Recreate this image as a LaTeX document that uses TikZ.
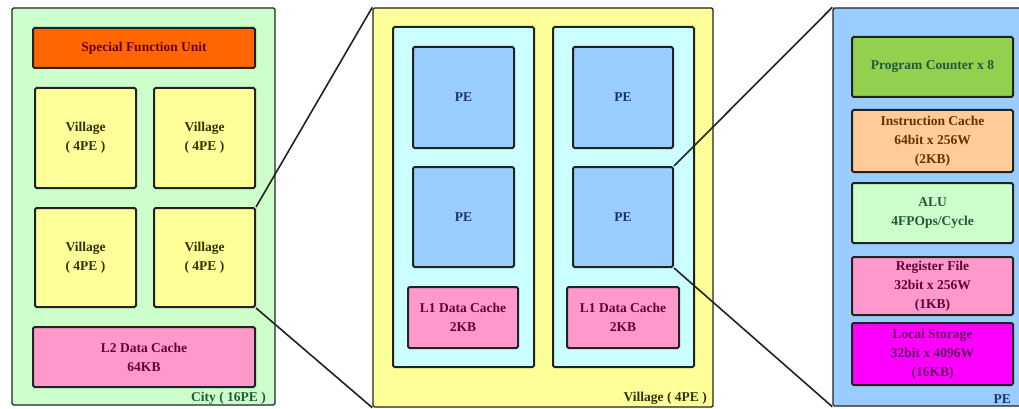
\documentclass[tikz,border=0pt]{standalone}
\usepackage{fontspec}
\setmainfont{Liberation Serif}
\definecolor{cityBg}{HTML}{CCFFCC}
\definecolor{sfuC}{HTML}{FF6600}
\definecolor{villC}{HTML}{FFFF99}
\definecolor{cacheC}{HTML}{FF99CC}
\definecolor{colC}{HTML}{CCFFFF}
\definecolor{peC}{HTML}{99CCFF}
\definecolor{pcC}{HTML}{92D050}
\definecolor{icC}{HTML}{FFCC99}
\definecolor{aluC}{HTML}{CCFFCC}
\definecolor{lsC}{HTML}{FF00FF}
\definecolor{edge}{HTML}{222222}
\definecolor{tRed}{HTML}{660000}
\definecolor{tOlive}{HTML}{333300}
\definecolor{tPurp}{HTML}{660033}
\definecolor{tGreen}{HTML}{1F5C35}
\definecolor{tBlue}{HTML}{1F3366}
\definecolor{tBrown}{HTML}{663300}
\definecolor{tMag}{HTML}{660066}
\begin{document}
\begin{tikzpicture}[x=1pt,y=-1pt,
  font=\fontsize{13.5}{19}\selectfont\bfseries,
  outerbox/.style={draw=edge,line width=1.4pt,rounded corners=1.5pt,inner sep=0pt},
  box/.style={draw=edge,line width=2pt,rounded corners=1.5pt,inner sep=0pt,align=center},
  label/.style={inner sep=0pt,anchor=south east},
  conn/.style={draw=edge,line width=1.6pt}]
\useasboundingbox (0,0) rectangle (1019,409);
% City
\node[outerbox,fill=cityBg,minimum width=263pt,minimum height=397pt] (city) at (143.5,206.5) {};
\node[box,fill=sfuC,text=tRed,minimum width=222pt,minimum height=40pt] (sfu) at (144,48) {Special Function Unit};
\node[box,fill=villC,text=tOlive,minimum width=101pt,minimum height=100pt] (v1) at (85.5,138) {Village\\( 4PE )};
\node[box,fill=villC,text=tOlive,minimum width=101pt,minimum height=100pt] (v2) at (204.5,138) {Village\\( 4PE )};
\node[box,fill=villC,text=tOlive,minimum width=101pt,minimum height=99pt] (v3) at (85.5,257.5) {Village\\( 4PE )};
\node[box,fill=villC,text=tOlive,minimum width=101pt,minimum height=99pt] (v4) at (204.5,257.5) {Village\\( 4PE )};
\node[box,fill=cacheC,text=tPurp,minimum width=222pt,minimum height=60pt] (l2) at (144,357) {L2 Data Cache\\64KB};
\node[label,text=tGreen] (citylbl) at (266,405) {City ( 16PE )};
% Village
\node[outerbox,fill=villC,minimum width=340pt,minimum height=399pt] (vill) at (543,207.5) {};
\node[box,fill=colC,minimum width=141pt,minimum height=340pt] (colA) at (463.5,197) {};
\node[box,fill=colC,minimum width=141pt,minimum height=340pt] (colB) at (623.5,197) {};
\node[box,fill=peC,text=tBlue,minimum width=101pt,minimum height=101pt] (pa1) at (463.5,97.5) {PE};
\node[box,fill=peC,text=tBlue,minimum width=101pt,minimum height=100pt] (pa2) at (463.5,217) {PE};
\node[box,fill=peC,text=tBlue,minimum width=100pt,minimum height=101pt] (pb1) at (623,97.5) {PE};
\node[box,fill=peC,text=tBlue,minimum width=100pt,minimum height=100pt] (pb2) at (623,217) {PE};
\node[box,fill=cacheC,text=tPurp,minimum width=110pt,minimum height=61pt] (l1a) at (463,317.5) {L1 Data Cache\\2KB};
\node[box,fill=cacheC,text=tPurp,minimum width=112pt,minimum height=61pt] (l1b) at (623,317.5) {L1 Data Cache\\2KB};
\node[label,text=tOlive] (villlbl) at (707,405) {Village ( 4PE )};
% PE
\node[outerbox,fill=peC,minimum width=190pt,minimum height=398pt] (pe) at (928,207) {};
\node[box,fill=pcC,text=tGreen,minimum width=161pt,minimum height=60pt] (pc) at (932.5,67) {Program Counter x 8};
\node[box,fill=icC,text=tBrown,minimum width=161pt,minimum height=62pt] (ic) at (932.5,141) {Instruction Cache\\64bit x 256W\\(2KB)};
\node[box,fill=aluC,text=tGreen,minimum width=161pt,minimum height=60pt] (alu) at (932.5,213) {ALU\\4FPOps/Cycle};
\node[box,fill=cacheC,text=tPurp,minimum width=161pt,minimum height=58pt] (rf) at (932.5,286) {Register File\\32bit x 256W\\(1KB)};
\node[box,fill=lsC,text=tMag,minimum width=161pt,minimum height=62pt] (ls) at (932.5,354) {Local Storage\\32bit x 4096W\\(16KB)};
\node[label,text=tBlue] (pelbl) at (1011,404) {PE};
% connectors
\draw[conn] (v4.north east) -- (vill.north west);
\draw[conn] (v4.south east) -- (vill.south west);
\draw[conn] (pb2.north east) -- (pe.north west);
\draw[conn] (pb2.south east) -- (pe.south west);
\end{tikzpicture}
\end{document}
